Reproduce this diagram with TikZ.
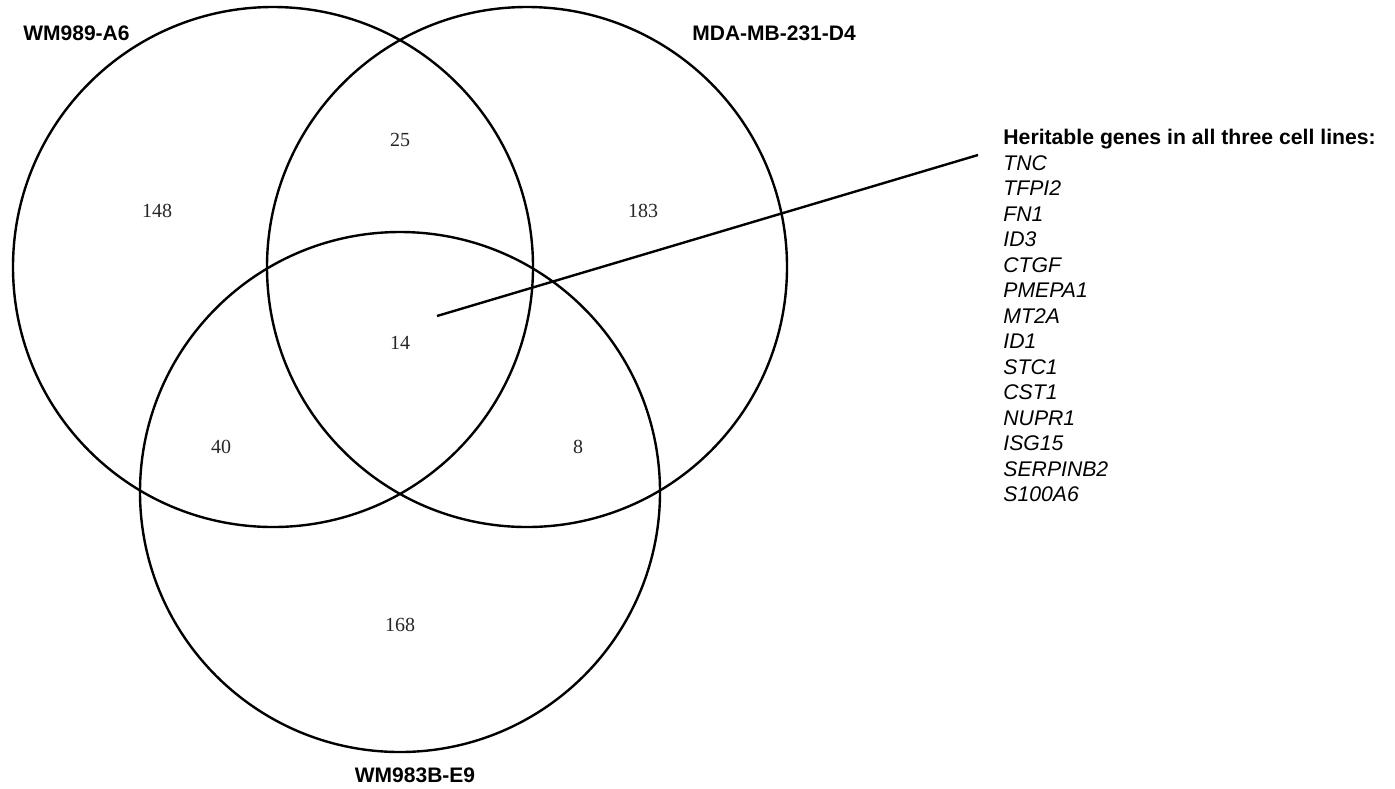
\documentclass[tikz,border=0pt]{standalone}
\usepackage{fontspec}
\setmainfont{Liberation Serif}
\setsansfont{Liberation Sans}
\usepackage{tikz}

\tikzset{
  setring/.style={line width=1.2pt},
  count/.style={font=\fontsize{10}{12}\selectfont, text=black!85},
  cellline/.style={font=\sffamily\bfseries\fontsize{10.5}{12.75}\selectfont, inner sep=0pt},
}

\begin{document}
\begin{tikzpicture}[x=0.5pt,y=-0.5pt]
\useasboundingbox (0,0) rectangle (1395,788);
%集合
\draw [setring] (273,267) circle [radius=260];
\draw [setring] (527,267) circle [radius=260];
\draw [setring] (400,492) circle [radius=260];
%数目
\node [count] (n148) at (157,211) {148};
\node [count] (n25)  at (400,140) {25};
\node [count] (n183) at (643,211) {183};
\node [count] (n14)  at (400,343) {14};
\node [count] (n40)  at (221,447) {40};
\node [count] (n8)   at (578,447) {8};
\node [count] (n168) at (400,625) {168};
%Text
\node [cellline, anchor=west] (wma) at (23,33) {WM989-A6};
\node [cellline, anchor=west] (mda) at (692,33) {MDA-MB-231-D4};
\node [cellline] (wmb) at (415,775) {WM983B-E9};
\node [anchor=north west, inner sep=0pt, align=left,
       font=\sffamily\fontsize{10.6}{12.75}\selectfont] (genes) at (1003,129)
  {\textbf{Heritable genes in all three cell lines:}\\
   \textit{TNC}\\ \textit{TFPI2}\\ \textit{FN1}\\ \textit{ID3}\\ \textit{CTGF}\\
   \textit{PMEPA1}\\ \textit{MT2A}\\ \textit{ID1}\\ \textit{STC1}\\ \textit{CST1}\\
   \textit{NUPR1}\\ \textit{ISG15}\\ \textit{SERPINB2}\\ \textit{S100A6}};
%引线
\coordinate (tip) at (437,316);
\coordinate (lead) at (978,155);
\draw [setring] (tip) -- (lead);
\end{tikzpicture}
\end{document}
